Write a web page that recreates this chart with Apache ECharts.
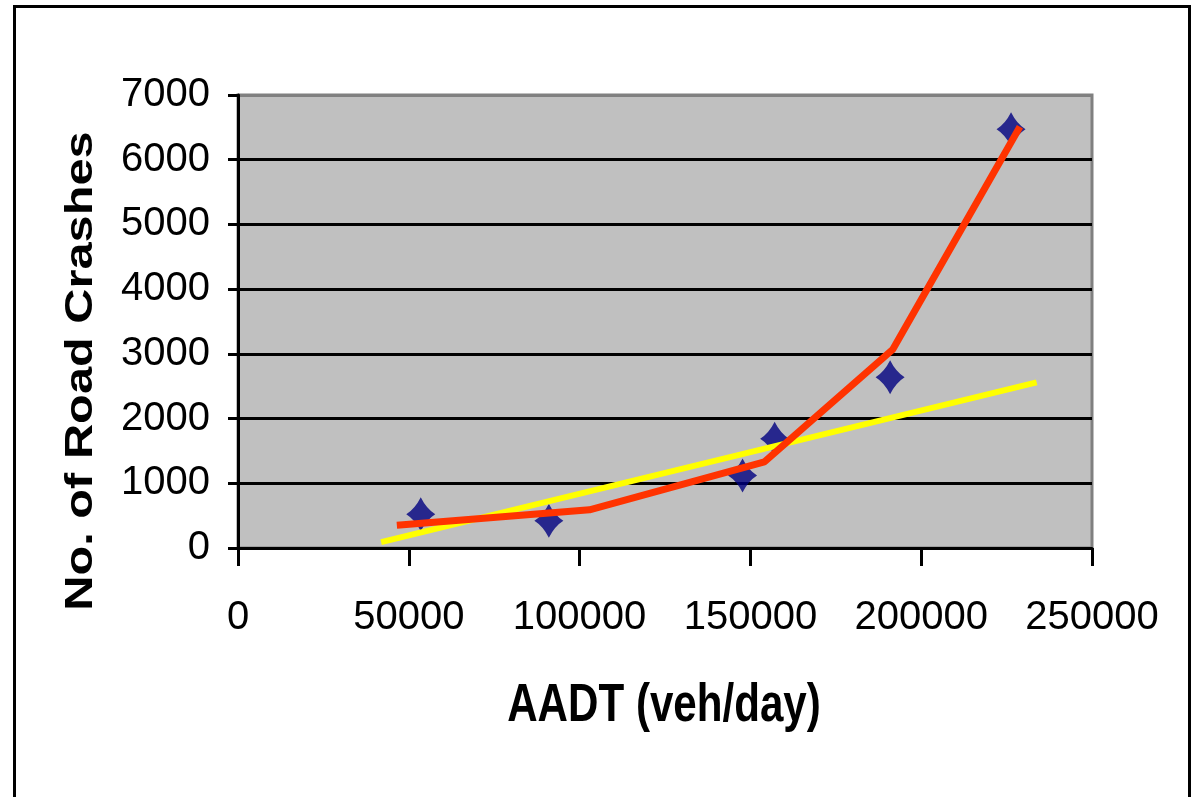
<!DOCTYPE html>
<html>
<head>
<meta charset="utf-8">
<script src="https://cdn.jsdelivr.net/npm/echarts@6/dist/echarts.min.js"></script>
<style>
  html, body { margin: 0; padding: 0; background: #fff; }
  #chart { width: 1194px; height: 797px; }
</style>
</head>
<body>
<div id="chart"></div>
<script>
// observed points (AADT vs crashes)
const aadt = [53500, 91000, 147700, 157100, 190900, 226300]
const crashes = [520, 420, 1120, 1690, 2640, 6470]

// red fitted curve
const curveX = [46500, 102900, 154100, 191700, 228900]
const curveY = [350, 590, 1330, 3070, 6510]

// yellow linear fit
const linearX = [41900, 233800]
const linearY = [90, 2560]

const xTicks = { min: 0, max: 250000, interval: 50000 }
const yTicks = { min: 0, max: 7000, interval: 1000 }

const labelFont = '"Liberation Sans Narrow", "Arial Narrow", "Liberation Sans", Arial, sans-serif'
const diamond = 'path://M0,-17 Q5.5,-5.5 14,0 Q5.5,5.5 0,17 Q-5.5,5.5 -14,0 Q-5.5,-5.5 0,-17z'

const chart = echarts.init(document.getElementById('chart'))

const zip = (xs, ys) => xs.map((x, i) => [x, ys[i]])
const plain = v => String(v)

// split line colours: black inside, grey on the top edge
const splitColors = []
for (let v = yTicks.min; v <= yTicks.max; v += yTicks.interval) {
  splitColors.push(v === yTicks.max ? '#808080' : '#000000')
}

const option = {
  backgroundColor: '#ffffff',
  animation: false,
  grid: {
    left: 238,
    top: 95,
    right: 102,
    bottom: 249,
    show: true,
    backgroundColor: '#c0c0c0',
    borderColor: '#808080',
    borderWidth: 3
  },
  xAxis: {
    type: 'value',
    min: xTicks.min,
    max: xTicks.max,
    interval: xTicks.interval,
    axisLine: { show: true, onZero: false, lineStyle: { color: '#000', width: 3 } },
    axisTick: { show: true, inside: false, length: 18, lineStyle: { color: '#000', width: 3 } },
    axisLabel: { color: '#000', fontFamily: labelFont, fontSize: 40, margin: 50, formatter: plain },
    splitLine: { show: false }
  },
  yAxis: {
    type: 'value',
    min: yTicks.min,
    max: yTicks.max,
    interval: yTicks.interval,
    axisLine: { show: true, lineStyle: { color: '#000', width: 3 } },
    axisTick: { show: true, inside: false, length: 10, lineStyle: { color: '#000', width: 3 } },
    axisLabel: { color: '#000', fontFamily: labelFont, fontSize: 40, margin: 28, formatter: plain },
    splitLine: { show: true, lineStyle: { color: splitColors, width: 3 } }
  },
  series: [
    {
      name: 'Linear',
      type: 'line',
      data: zip(linearX, linearY),
      showSymbol: false,
      lineStyle: { color: '#ffff00', width: 6 },
      z: 3
    },
    {
      name: 'Observed',
      type: 'scatter',
      data: zip(aadt, crashes),
      symbol: diamond,
      symbolSize: [29, 34],
      itemStyle: { color: '#000080' },
      z: 2
    },
    {
      name: 'Curve',
      type: 'line',
      data: zip(curveX, curveY),
      showSymbol: false,
      lineStyle: { color: '#ff3300', width: 7 },
      z: 4
    }
  ],
  graphic: [
    {
      type: 'rect',
      shape: { x: 14.5, y: 6.5, width: 1175, height: 820 },
      style: { fill: 'none', stroke: '#000', lineWidth: 3 },
      silent: true
    },
    {
      type: 'text',
      x: 664, y: 706,
      scaleX: 0.78,
      style: {
        text: 'AADT (veh/day)',
        font: 'bold 54px ' + labelFont,
        fill: '#000',
        align: 'center',
        verticalAlign: 'middle'
      }
    },
    {
      type: 'text',
      x: 81, y: 371,
      rotation: Math.PI / 2,
      scaleX: 1.25,
      style: {
        text: 'No. of Road Crashes',
        font: 'bold 39px "Liberation Sans", Arial, sans-serif',
        fill: '#000',
        align: 'center',
        verticalAlign: 'middle'
      }
    }
  ]
}

chart.setOption(option)
</script>
</body>
</html>
